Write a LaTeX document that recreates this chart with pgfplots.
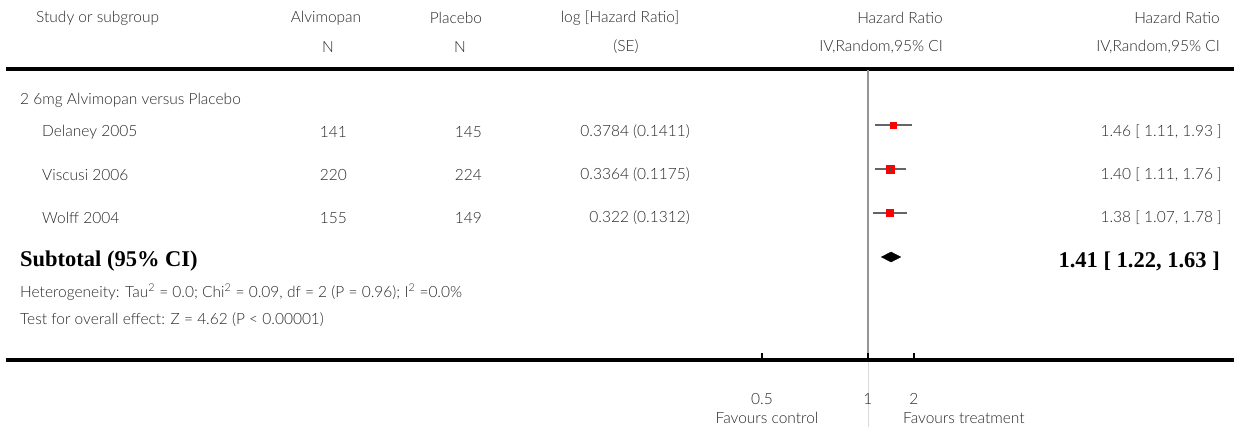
\documentclass[border=0pt]{standalone}
\usepackage{pgfplots}
\pgfplotsset{compat=1.18}
\usepackage{fontspec}
\setmainfont{Lato}[UprightFont={* Light}]
\newfontfamily\serifb{Liberation Serif}
\definecolor{txt}{RGB}{40,40,40}
\definecolor{cil}{RGB}{100,100,100}
\definecolor{vline}{RGB}{150,150,150}
\definecolor{sq}{RGB}{255,0,0}
\newcommand\R[2]{(rel axis cs:{#1/1234},{1-#2/427})}
\begin{document}
\begin{tikzpicture}[font=\fontsize{15.5}{18}\selectfont, tx/.style={text=txt, inner sep=0pt}]
\begin{axis}[
  width=1234pt, height=427pt, scale only axis,
  xmode=log, xmin=2.36e-6, xmax=235.7,
  ymin=0, ymax=427,
  axis lines=none, clip=false,
]
% header
\node[tx, anchor=west] at \R{36}{18} {Study or subgroup};
\node[tx] at \R{326}{18} {Alvimopan};
\node[tx] at \R{456}{18} {Placebo};
\node[tx] at \R{620}{18} {log [Hazard Ratio]};
\node[tx, anchor=east] at \R{943}{18} {Hazard Ratio};
\node[tx, anchor=east] at \R{1220}{18} {Hazard Ratio};
\node[tx] at \R{328}{47} {N};
\node[tx] at \R{460}{47} {N};
\node[tx] at \R{626}{47} {(SE)};
\node[tx, anchor=east] at \R{943}{47} {IV,Random,95\% CI};
\node[tx, anchor=east] at \R{1220}{47} {IV,Random,95\% CI};
\draw[black, line width=4pt] \R{6}{69} -- \R{1234}{69};
% group
\node[tx, anchor=west] at \R{20}{100} {2 6mg Alvimopan versus Placebo};
\node[tx, anchor=west] at \R{42}{132} {Delaney 2005};
\node[tx, anchor=west] at \R{42}{175} {Viscusi 2006};
\node[tx, anchor=west] at \R{42}{218} {Wolff 2004};
\node[tx, anchor=east] at \R{347}{132} {141};
\node[tx, anchor=east] at \R{347}{175} {220};
\node[tx, anchor=east] at \R{347}{218} {155};
\node[tx, anchor=east] at \R{482}{132} {145};
\node[tx, anchor=east] at \R{482}{175} {224};
\node[tx, anchor=east] at \R{482}{218} {149};
\node[tx, anchor=east] at \R{690}{132} {0.3784 (0.1411)};
\node[tx, anchor=east] at \R{690}{175} {0.3364 (0.1175)};
\node[tx, anchor=east] at \R{690}{218} {0.322 (0.1312)};
\node[tx, anchor=east] at \R{1222}{132} {1.46 [ 1.11, 1.93 ]};
\node[tx, anchor=east] at \R{1222}{175} {1.40 [ 1.11, 1.76 ]};
\node[tx, anchor=east] at \R{1222}{218} {1.38 [ 1.07, 1.78 ]};
\node[anchor=west, inner sep=0pt, font=\serifb\bfseries\fontsize{22.5}{26}\selectfont, text=black] at \R{20}{261} {Subtotal (95\% CI)};
\node[anchor=east, inner sep=0pt, font=\serifb\bfseries\fontsize{22.5}{26}\selectfont, text=black] at \R{1220}{261} {1.41 [ 1.22, 1.63 ]};
\node[tx, anchor=west] at \R{20}{292} {Heterogeneity: Tau\textsuperscript{2} = 0.0; Chi\textsuperscript{2} = 0.09, df = 2 (P = 0.96); I\textsuperscript{2} =0.0\%};
\node[tx, anchor=west] at \R{20}{320} {Test for overall effect: Z = 4.62 (P < 0.00001)};
% reference lines
\addplot[vline, line width=1.5pt] coordinates {(1,357) (1,67)};
\addplot[black!15, line width=1pt] coordinates {(1,67) (1,0)};
% CIs
\addplot[cil, line width=2.2pt] coordinates {(1.11,302) (1.93,302)};
\addplot[cil, line width=2.2pt] coordinates {(1.11,258) (1.76,258)};
\addplot[cil, line width=2.2pt] coordinates {(1.07,214) (1.78,214)};
\addplot[only marks, mark=square*, mark size=3.2pt, sq, mark options={draw=sq, fill=sq}] coordinates {(1.46,302)};
\addplot[only marks, mark=square*, mark size=4pt, sq, mark options={draw=sq, fill=sq}] coordinates {(1.40,258)};
\addplot[only marks, mark=square*, mark size=3.4pt, sq, mark options={draw=sq, fill=sq}] coordinates {(1.38,214)};
\addplot[only marks, mark=|, mark size=2pt, black!70, mark options={line width=1pt}] coordinates {(1.46,302) (1.40,258) (1.38,214)};
% diamond
\addplot[fill=black, draw=black] coordinates {(1.22,170) (1.41,175) (1.63,170) (1.41,165)} -- cycle;
% bottom axis
\draw[black, line width=4pt] \R{6}{360} -- \R{1234}{360};
\draw[black, line width=2pt] \R{762}{360} -- \R{762}{353};
\draw[black, line width=2pt] \R{868}{360} -- \R{868}{353};
\draw[black, line width=2pt] \R{914}{360} -- \R{914}{353};
\node[tx] at \R{762}{399} {0.5};
\node[tx] at \R{868}{399} {1};
\node[tx] at \R{914}{399} {2};
\node[tx] at \R{767}{418} {Favours control};
\node[tx, anchor=west] at \R{903}{418} {Favours treatment};
\coordinate (ll) at (rel axis cs:0,0);
\coordinate (ur) at (rel axis cs:1,1);
\end{axis}
\pgfresetboundingbox
\path[use as bounding box] (ll) rectangle (ur);
\end{tikzpicture}
\end{document}
